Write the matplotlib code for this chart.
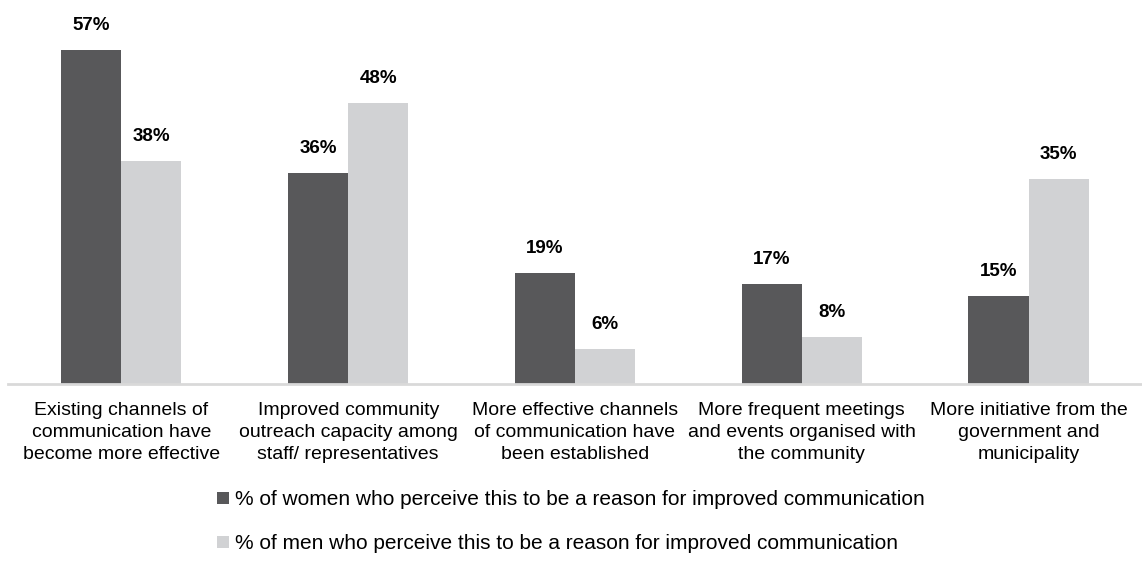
import matplotlib.pyplot as plt
import numpy as np

plt.rcParams['font.family'] = ['Liberation Sans Narrow', 'Liberation Sans', 'DejaVu Sans']

categories = [
    "Existing channels of\ncommunication have\nbecome more effective",
    "Improved community\noutreach capacity among\nstaff/ representatives",
    "More effective channels\nof communication have\nbeen established",
    "More frequent meetings\nand events organised with\nthe community",
    "More initiative from the\ngovernment and\nmunicipality",
]
women = [57, 36, 19, 17, 15]
men = [38, 48, 6, 8, 35]
series_labels = [
    "% of women who perceive this to be a reason for improved communication",
    "% of men who perceive this to be a reason for improved communication",
]

dark = "#58585a"
light = "#d1d2d4"

fig = plt.figure(figsize=(11.42, 5.82), dpi=100)
ax = fig.add_axes([0.007, 0.34, 0.993, 0.655])

x = np.arange(len(categories))
w = 0.265
b1 = ax.bar(x - w / 2, women, w, color=dark, label=series_labels[0])
b2 = ax.bar(x + w / 2, men, w, color=light, label=series_labels[1])

for bars, vals in ((b1, women), (b2, men)):
    for bar, v in zip(bars, vals):
        ax.annotate(f"{v}%", (bar.get_x() + bar.get_width() / 2, v),
                    xytext=(0, 16), textcoords='offset pixels',
                    ha='center', va='bottom', fontsize=13.5, fontweight='bold')

ax.set_xlim(-0.5, len(categories) - 0.5)
ax.set_ylim(0, 65)
ax.set_yticks([])
ax.set_xticks(x)
ax.set_xticklabels(categories, fontsize=14, linespacing=1.38)
ax.tick_params(axis='x', length=0, pad=13)
for s in ('top', 'right', 'left'):
    ax.spines[s].set_visible(False)
ax.spines['bottom'].set_color('#d9d9d9')
ax.spines['bottom'].set_linewidth(2)

fig.legend(handles=[b1, b2], loc='lower center', bbox_to_anchor=(0.5, 0.017),
           ncol=1, frameon=False, fontsize=15, handlelength=0.55, handleheight=0.55,
           handletextpad=0.3, labelspacing=1.2, borderaxespad=0.5)

fig.savefig("out.png", dpi=100)
